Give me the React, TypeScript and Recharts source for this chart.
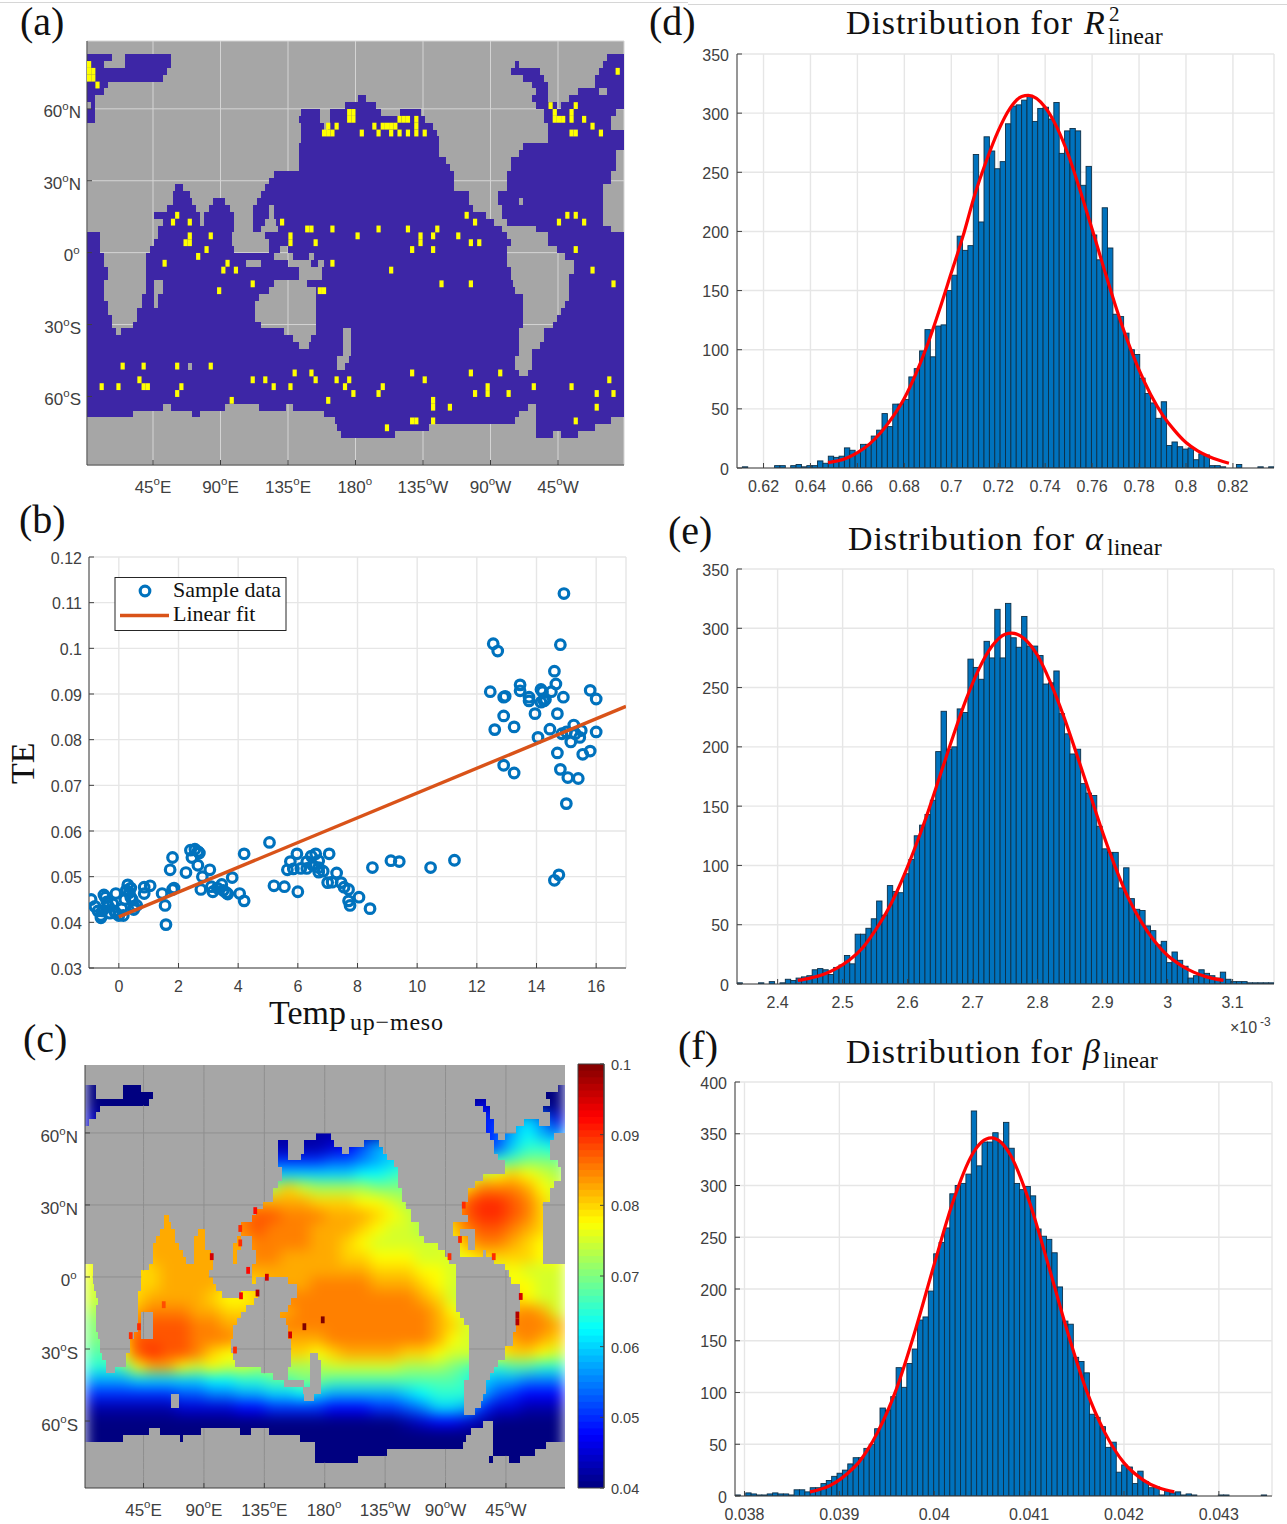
import React from 'react';
import {
  Bar,
  CartesianGrid,
  ComposedChart,
  Line,
  ReferenceArea,
  ReferenceLine,
  Scatter,
  ScatterChart,
  XAxis,
  YAxis,
} from 'recharts';

// ---- map axes
const LON_TICKS = [45, 90, 135, 180, 225, 270, 315];
const LON_LABELS = [['45', 'E'], ['90', 'E'], ['135', 'E'], ['180', ''], ['135', 'W'], ['90', 'W'], ['45', 'W']];
const LAT_TICKS = [60, 30, 0, -30, -60];
const LAT_LABELS = [['60', 'N'], ['30', 'N'], ['0', ''], ['30', 'S'], ['60', 'S']];

// ---- panel (a): ocean runs per grid row, as pairs of start and end columns
const A_OCEAN = [
  [0, 6, 9, 20, 124, 128],
  [0, 4, 9, 20, 102, 103, 123, 128],
  [0, 19, 101, 108, 122, 128],
  [0, 18, 104, 109, 121, 128],
  [0, 5, 106, 110, 121, 128],
  [0, 4, 107, 110, 117, 122, 124, 128],
  [0, 2, 64.5, 66.5, 106, 110, 115, 128],
  [1, 2, 61.5, 69, 107, 112, 113, 128],
  [0, 2, 51, 55.5, 58, 70, 74.5, 79.5, 109, 126],
  [0, 2, 50.5, 55.5, 58, 80.5, 109, 125],
  [51, 56.5, 57.5, 82.5, 110, 125],
  [51, 83.5, 110, 128],
  [51, 84, 110, 128],
  [50.5, 84, 104, 128],
  [50.5, 84, 103, 126],
  [50.5, 85.5, 101, 126],
  [50.5, 86.5, 101, 126],
  [44.5, 87.5, 100, 125],
  [43.5, 87.5, 100, 125],
  [21, 23, 42.5, 87.5, 100, 123],
  [20.5, 24.5, 41.5, 91, 98, 123],
  [20.5, 25, 30, 33, 40.5, 91, 98, 103, 104, 123],
  [19, 26, 29, 34, 39.5, 43.5, 44.5, 92, 99, 123],
  [16, 27, 28, 35, 39.5, 43.5, 44.5, 95, 99, 123],
  [18, 27, 28, 35, 39.5, 42.5, 45, 97, 100, 123],
  [17, 35, 39.5, 41.5, 45.5, 99, 107, 125],
  [0, 3, 17, 34.5, 42.5, 100, 110, 128],
  [0, 3, 16, 34.5, 43.5, 101, 110, 128],
  [0, 3, 15, 35, 43.5, 46, 48, 100, 112, 128],
  [0, 4, 14, 44.5, 49, 53, 54, 100, 114, 128],
  [0, 4, 14, 38, 41.5, 48, 53.5, 55, 56.5, 100, 116, 128],
  [0, 5, 14, 50.5, 56, 101, 116, 128],
  [0, 5, 14, 50.5, 56, 101, 115, 128],
  [0, 4, 14, 16, 18, 44.5, 52.5, 101.5, 115, 128],
  [0, 4, 14, 16, 18, 43.5, 54.5, 102, 115, 128],
  [0, 4, 13, 16, 17, 41, 54.5, 104, 115, 128],
  [0, 5, 13, 16, 17, 40, 54.5, 104, 114, 128],
  [0, 5, 12, 40, 54.5, 104, 113, 128],
  [0, 6, 12, 40, 54.5, 104, 112, 128],
  [0, 6, 11, 41.5, 54.5, 104, 111, 128],
  [0, 7, 8, 47, 54.5, 61, 63, 103, 109, 128],
  [0, 49, 53.5, 61, 63, 103, 109, 128],
  [0, 50.5, 53, 61, 63, 103, 108, 128],
  [0, 61, 63, 103, 106, 128],
  [0, 59.5, 62.5, 102, 106, 128],
  [0, 24, 25, 59.5, 61.5, 102, 106, 128],
  [0, 103, 105, 128],
  [0, 128],
  [0, 128],
  [0, 128],
  [0, 128],
  [0, 18, 20, 33, 41, 47.5, 49, 105, 107, 128],
  [0, 11, 25, 27, 56.5, 103, 107, 128],
  [59, 102, 107, 125],
  [59.5, 81.5, 107, 121],
  [60.5, 73.5, 107, 111, 113, 117],
];

// yellow cells as [column, row]
const A_YELLOW = [
  [0, 1], [0, 2], [0, 3], [1, 2], [1, 3], [2, 4], [126, 2],
  [57, 11], [58, 11], [56, 11], [57, 10], [59, 10], [62, 8], [63, 8], [62, 9], [63, 9], [65, 11],
  [68, 10], [70, 10], [71, 10], [72, 10], [73, 10], [69, 11], [72, 11], [74, 11], [76, 11],
  [78, 9], [78, 10], [78, 11], [80, 11], [74, 9], [75, 9], [76, 9],
  [110, 7], [111, 8], [111, 9], [112, 9], [113, 9], [116, 7], [115, 8], [115, 9], [118, 9], [120, 10], [122, 11], [115, 11], [116, 11],
  [21, 23], [20, 24], [24, 24], [24, 26], [23, 27], [24, 27], [29, 26], [28, 28], [26, 29], [18, 30], [33, 30], [32, 31], [35, 31], [39, 33], [31, 34],
  [46, 24], [48, 26], [48, 27], [52, 25], [53, 25], [54, 27], [58, 25], [64, 26], [69, 25], [76, 25], [79, 26], [79, 27], [82, 26], [83, 25], [77, 28], [82, 28],
  [88, 26], [90, 23], [92, 24], [91, 27], [93, 27], [58, 30], [72, 31], [84, 33], [91, 33], [55, 34], [56, 34],
  [112, 24], [114, 23], [116, 23], [118, 24], [116, 28], [120, 31], [125, 33],
  [8, 45], [13, 45], [21, 45], [29, 45], [49, 46], [53, 46], [54, 47], [39, 47], [42, 47], [44, 48], [48, 48], [59, 47], [62, 47], [61, 48], [63, 49], [70, 48], [69, 49],
  [77, 46], [80, 47], [91, 46], [98, 46], [92, 49], [95, 48], [95, 49], [100, 49], [106, 48], [115, 48], [124, 47], [121, 49], [125, 49], [121, 51],
  [3, 48], [7, 48], [12, 47], [13, 48], [14, 48], [22, 48], [21, 49], [34, 50], [57, 50], [82, 50], [82, 51], [86, 51], [77, 53], [78, 53], [82, 53], [71, 54], [116, 53],
];

// ---- panel (b)
const SAMPLE_TEMP = [
  -0.93, -0.8, -0.7, -0.6, -0.6, -0.55, -0.5, -0.45, -0.4, -0.35, -0.3, -0.2, -0.15, -0.1, 0, -0.1, 0.1, 0.15, 0.2, 0.25, 0.3, 0.35, 0.4, 0.4, 0.45, 0.5, 0.5, 0.6, 0.85, 0.85, 1.05,
  1.45, 1.55, 1.58, 1.72, 1.8, 1.85, 1.8, 2.25, 2.4, 2.45, 2.55, 2.65, 2.7, 2.65, 2.75, 2.8, 3.05, 3.1, 3.15, 3.3, 3.45, 3.5, 3.6, 3.65, 3.8, 4.05, 4.2, 4.2,
  5.05, 5.2, 5.55, 5.65, 5.75, 5.85, 5.97, 6, 6.1, 6.3, 6.3, 6.45, 6.5, 6.6, 6.7, 6.7, 6.7, 6.85, 7, 7.05, 7.15, 7.3, 7.45, 7.55, 7.7, 7.7, 7.75, 8.05, 8.42, 8.5, 9.12, 9.4, 10.45, 11.25,
  12.45, 12.55, 12.6, 12.7, 12.9, 12.9, 12.95, 12.9, 13.25, 13.25, 13.45, 13.45, 13.75, 13.75, 13.95, 14.05, 14.15, 14.2, 14.15, 14.25, 14.3, 14.45, 14.5, 14.6, 14.65, 14.7, 14.7, 14.8, 14.8, 14.85, 14.9, 14.92, 15, 15, 15.05, 15.15, 15.25, 15.3, 15.4, 15.45, 15.5, 15.55, 15.8, 15.8, 16, 16,
  14.6, 14.75,
];
const SAMPLE_TE = [
  0.045, 0.0435, 0.0425, 0.041, 0.0415, 0.0425, 0.046, 0.0455, 0.0445, 0.0435, 0.042, 0.044, 0.0425, 0.042, 0.0415, 0.0463, 0.043, 0.0415, 0.045, 0.047, 0.0482, 0.0465, 0.0475, 0.0455, 0.045, 0.0435, 0.0428, 0.0437, 0.0463, 0.0477, 0.048,
  0.0463, 0.0437, 0.0395, 0.0515, 0.0472, 0.0475, 0.0542, 0.0509, 0.0558, 0.0542, 0.056, 0.0555, 0.0552, 0.0525, 0.0472, 0.05, 0.0515, 0.0478, 0.0467, 0.0475, 0.0483, 0.047, 0.0465, 0.0462, 0.0498, 0.0463, 0.0447, 0.055,
  0.0575, 0.048, 0.0478, 0.0515, 0.0533, 0.0517, 0.055, 0.0467, 0.0518, 0.0518, 0.0533, 0.0545, 0.0525, 0.055, 0.052, 0.0535, 0.051, 0.0512, 0.0487, 0.055, 0.0488, 0.0508, 0.0487, 0.0477, 0.0472, 0.0447, 0.0437, 0.0455, 0.043, 0.052, 0.0535, 0.0533, 0.052, 0.0536,
  0.0905, 0.101, 0.0822, 0.0994, 0.0852, 0.0893, 0.0895, 0.0744, 0.0828, 0.0727, 0.092, 0.0907, 0.0893, 0.0885, 0.0857, 0.0805, 0.091, 0.0905, 0.0882, 0.0885, 0.0888, 0.0823, 0.0905, 0.095, 0.0922, 0.0857, 0.0771, 0.0735, 0.1008, 0.0813, 0.0893, 0.112, 0.0817, 0.066, 0.0717, 0.0795, 0.0832, 0.0813, 0.0715, 0.0805, 0.082, 0.0768, 0.0775, 0.0908, 0.0817, 0.0889,
  0.0492, 0.0504,
];
const FIT_TEMP = [0, 17];
const FIT_TE = [0.0412, 0.0873];
const B_X_TICKS = [0, 2, 4, 6, 8, 10, 12, 14, 16];
const B_Y_TICKS = [0.03, 0.04, 0.05, 0.06, 0.07, 0.08, 0.09, 0.1, 0.11, 0.12];

// ---- panel (c): ocean runs per grid row
const C_OCEAN = [
  [0, 3, 10, 15, 126, 128],
  [0, 3, 10, 18, 123, 128],
  [0, 17, 104, 107, 124, 128],
  [0, 4, 106, 108, 122, 128],
  [0, 3, 107, 108, 124, 128],
  [0, 1, 107, 109, 117, 121, 124, 128],
  [107, 109, 115, 128],
  [61.5, 65.5, 108, 110, 112, 125],
  [51.5, 54, 58.5, 66.5, 74.5, 78.5, 109, 124],
  [51.5, 54, 58.5, 68.5, 70.5, 79.5, 109, 124],
  [51.5, 54, 57.5, 80.5, 110, 124],
  [51.5, 82.5, 112, 126],
  [52.5, 83.5, 112, 127],
  [52.5, 83.5, 106, 127],
  [51.5, 83.5, 104, 125],
  [50, 84.5, 102, 124],
  [50, 84.5, 102, 124],
  [47.5, 85.5, 100.5, 122],
  [45.5, 87, 100.5, 122],
  [21, 22.5, 44.5, 87, 102, 122],
  [21, 23, 41.5, 89, 98, 122],
  [20, 24, 30, 32, 41.5, 89, 98, 100, 104, 122],
  [19, 24, 29, 32, 40.5, 41.5, 44.5, 90.5, 100, 102, 104, 122],
  [18, 25, 29, 32, 39.5, 41.5, 44.5, 94, 100, 102, 104, 122],
  [18, 26, 29, 33.5, 39.5, 40.5, 45.5, 96, 100, 106, 107, 122],
  [18, 27, 29, 34, 39.5, 40.5, 45.5, 97, 109, 122],
  [0, 2, 17, 34, 44.5, 99, 112, 128],
  [0, 2, 15, 33, 44.5, 99, 113, 128],
  [0, 2, 15, 34, 44.5, 45.5, 54, 99, 113.5, 128],
  [0, 2.5, 15, 35, 56.5, 99, 116, 128],
  [0, 3, 14, 36.5, 41.5, 46, 56.5, 99, 116, 128],
  [0, 3.5, 14, 45, 55, 99, 116, 128],
  [0, 3, 14, 43, 54, 99, 116, 128],
  [0, 3, 14, 15, 18, 41.5, 52, 100, 115, 128],
  [0, 3, 14, 15, 18, 40.5, 53.5, 101, 115, 128],
  [0, 3, 14, 15, 18, 39.5, 54, 102.5, 115, 128],
  [0, 3.5, 13, 15, 18, 39.5, 54, 102.5, 114, 128],
  [0, 4, 12, 39, 55, 102.5, 114, 128],
  [0, 4, 12, 39, 55, 102.5, 112, 128],
  [0, 4.5, 11, 39.5, 55, 60, 62, 102.5, 112, 128],
  [0, 5.5, 11, 40, 55, 60, 63, 102.5, 110, 128],
  [0, 5.5, 8, 47, 54, 60, 63, 102.5, 109, 128],
  [0, 50, 54, 60, 63, 102.5, 108, 128],
  [0, 53, 58.5, 60, 63, 101, 107, 128],
  [0, 58, 63, 101, 107, 128],
  [0, 23, 25, 58.5, 61, 101, 106, 128],
  [0, 23, 25, 101, 105.5, 128],
  [0, 101, 104, 128],
  [0, 128],
  [0, 106, 108.7, 128],
  [0, 17, 20, 31, 41.4, 44.3, 49, 103, 108.7, 128],
  [0, 10, 25.3, 26, 57.4, 101.5, 108.7, 128],
  [61.4, 100.8, 108.7, 123],
  [61.4, 80.6, 108.7, 120],
  [61.4, 72.7, 107.7, 108.7, 113, 116],
];

// coarse TE field: one letter per block, a = 0.04 up to y = 0.1 in steps of 0.0025
const C_FIELD = [
  'aaaaaaaaaaaaaaaaaaaaaaaaaaaaaaaa',
  'aaaaaaaaaaaaaaaaaaaaaaaaaadaaaaa',
  'caaaaaaaaaaaaaaaaaaaaaaaaaeehigc',
  'bbbbbbbbbbbbbbbbbbbbbbbbbbdfhjhg',
  'ccccccccccccbbbbcdfhiiijjjefikkj',
  'eeeeeeeeeeeeeeeeffghijjjkkkklmmm',
  'iiiiiiiiiiiiiiiiiijjkllmmnopqpon',
  'nnnnnnnnnnnnnqonnnnmmmmnoqsssrpo',
  'rrrrrrrrrrrrrrrqqqpponnoqtuutsqo',
  'rrrrrrrrrrsttsssrrrqponortuutsqp',
  'rrrrrrrrrrstsssrrrqpoonnqsttsrqp',
  'qqqqrrrrrrrssssrrqpoooooprssrqpp',
  'oppprrrrrrrssrrrrqqpppooopqqqqpp',
  'pppqqrrrrrrrrrrrrrrqqqppoooopooo',
  'oopqqrrrrqqqrrrssssrrrqpooooppoo',
  'onpqrrrrqppqrsssssssssrqonnoqpoo',
  'nnqrsssrrqqqrrsssssssssrpooprsro',
  'mnrstttssrrrrssssssssssrqoprsssr',
  'mmqttttsssrrrrrrsssssssrpooqrsrq',
  'llptuttsqppooqqpqrrrrqqpoooPqqpo'.replace('P', 'p'),
  'kklprrpopoonnnnnooooonnnmlkkllkk',
  'hhhiiiiijjkkllmmlllllllllkihhggg',
  'eeeeeeffgghhiijihhhhhijkkkhfeddd',
  'bbbbbbccccddeeeedddeefgiiheccbbb',
  'aaaaaaaaaaaaaaaaaaaaabcddcbaaaaa',
  'aaaaaaaaaaaaaaaaaaaaaaaaaaaaaaaa',
  'aaaaaaaaaaaaaaaaaaaaaaaaaaaaaaaa',
  'aaaaaaaaaaaaaaaaaaaaaaaaaaaaaaaa',
];

// sharp hot cells along the coasts as [column, row, TE]
const C_SPECKS = [
  [45.4, 18.3, 0.092], [41.4, 20.9, 0.09], [41.4, 23, 0.09], [33.8, 25, 0.095], [43.5, 27, 0.092], [48.5, 28, 0.095],
  [46, 30.3, 0.097], [41.6, 30.7, 0.093], [21, 32, 0.088], [14.4, 35.2, 0.09], [12.2, 36.5, 0.09], [58.5, 35.2, 0.1],
  [63.4, 34.2, 0.1], [54.7, 36.4, 0.095], [40, 38.6, 0.09], [101, 17.5, 0.09], [100, 22.5, 0.09], [97.2, 25, 0.09],
  [109, 25, 0.09], [116.2, 30.8, 0.095], [115.3, 33.5, 0.097], [115.3, 34.5, 0.097],
];
const COLORBAR_TICKS = [0.04, 0.05, 0.06, 0.07, 0.08, 0.09, 0.1];

// ---- histograms, 100 bins each
const D_COUNTS = [
  0, 1, 0, 0, 0, 0, 0, 2, 2, 0, 2, 3, 1, 2, 2, 6, 4, 10, 9, 10, 17, 15, 13, 20, 20, 27, 32, 46, 35, 54, 54, 58, 77, 84, 99, 117, 94, 120, 121, 150,
  163, 196, 184, 188, 265, 208, 280, 268, 253, 259, 291, 306, 307, 311, 314, 293, 304, 305, 295, 309, 266, 285, 287, 285, 239, 255, 197, 176, 220, 186,
  130, 128, 114, 100, 96, 76, 63, 55, 42, 56, 19, 22, 18, 16, 17, 7, 12, 11, 2, 2, 1, 0, 0, 3, 0, 0, 0, 1, 0, 1,
];
const D_FIT_X = [0.6475, 0.655, 0.66, 0.665, 0.67, 0.675, 0.68, 0.685, 0.69, 0.695, 0.7, 0.705, 0.71, 0.715, 0.72, 0.725, 0.73, 0.7328, 0.74, 0.745, 0.75, 0.755, 0.76, 0.765, 0.77, 0.775, 0.78, 0.785, 0.79, 0.795, 0.8, 0.805, 0.81, 0.8183];
const D_FIT_Y = [4.5, 8, 13, 20, 30, 43, 59, 80, 105, 134, 165, 196, 231, 260, 285, 304, 314, 315, 305, 288, 264, 234, 202, 169, 137, 108, 83, 62, 45, 32, 21.5, 14.5, 9.5, 4];
const D_X_TICKS = [0.62, 0.64, 0.66, 0.68, 0.7, 0.72, 0.74, 0.76, 0.78, 0.8, 0.82];

const E_COUNTS = [
  1, 0, 0, 0, 1, 0, 2, 0, 1, 4, 3, 5, 6, 7, 12, 13, 12, 8, 14, 16, 24, 17, 42, 42, 47, 55, 70, 58, 83, 78, 77, 93, 105, 125, 134, 143, 155, 196, 230, 198,
  200, 232, 229, 274, 267, 257, 289, 275, 316, 275, 321, 292, 284, 310, 285, 285, 277, 253, 254, 264, 228, 211, 194, 198, 169, 161, 159, 133, 114, 111,
  111, 81, 98, 72, 63, 62, 49, 45, 33, 36, 18, 27, 20, 15, 5, 7, 12, 9, 7, 5, 10, 4, 2, 2, 2, 1, 1, 1, 1, 1,
];
const E_FIT_X = [2.431, 2.45, 2.47, 2.49, 2.51, 2.53, 2.55, 2.57, 2.59, 2.61, 2.63, 2.65, 2.67, 2.69, 2.71, 2.73, 2.75, 2.76, 2.78, 2.8, 2.82, 2.84, 2.86, 2.88, 2.9, 2.92, 2.94, 2.96, 2.98, 3, 3.02, 3.04, 3.06, 3.086];
const E_FIT_Y = [3, 5, 8, 13, 20, 30, 45, 63, 86, 113, 143, 176, 209, 240, 266, 285, 295, 296, 291, 277, 254, 226, 194, 161, 128, 98, 72, 52, 36, 24, 16, 10, 6, 3];
const E_X_TICKS = [2.4, 2.5, 2.6, 2.7, 2.8, 2.9, 3, 3.1];

const F_COUNTS = [
  1, 0, 3, 2, 1, 1, 2, 3, 2, 2, 1, 6, 6, 4, 8, 8, 12, 15, 19, 22, 25, 31, 37, 37, 46, 50, 65, 85, 83, 96, 124, 105, 128, 142, 170, 173, 198, 234, 245, 259,
  292, 300, 302, 311, 372, 319, 342, 342, 351, 342, 361, 336, 302, 296, 299, 290, 258, 251, 248, 235, 202, 169, 166, 134, 130, 119, 79, 76, 67, 47,
  52, 23, 30, 28, 12, 24, 14, 8, 9, 1, 5, 3, 4, 1, 2, 1, 0, 0, 0, 0, 1, 1, 0, 0, 0, 0, 0, 0, 1, 0,
];
const F_FIT_X = [0.03869, 0.0389, 0.039, 0.0391, 0.0392, 0.0393, 0.0394, 0.0396, 0.0398, 0.04, 0.0402, 0.0404, 0.0405, 0.0406, 0.0407, 0.0408, 0.041, 0.0412, 0.0414, 0.0416, 0.0418, 0.042, 0.0422, 0.04253];
const F_FIT_Y = [4, 10, 15.6, 23, 32, 45, 61, 103, 160, 224, 285, 330, 342, 346, 342, 330, 285, 224, 160, 103, 61, 32, 15.6, 4];
const F_X_TICKS = [0.038, 0.039, 0.04, 0.041, 0.042, 0.043];

const Y_TICKS_350 = [0, 50, 100, 150, 200, 250, 300, 350];
const Y_TICKS_400 = [0, 50, 100, 150, 200, 250, 300, 350, 400];

const INK = '#404040';
const GRID = '#e6e6e6';
const TICK_FONT = '"Liberation Sans", sans-serif';
const SERIF = '"Liberation Serif", serif';

const jet = (v: number) => {
  const t = Math.min(1, Math.max(0, (v - 0.04) / 0.06));
  const band = (c: number) => Math.round(255 * Math.min(1, Math.max(0, 1.5 - Math.abs(4 * t - c))));
  return `rgb(${band(3)},${band(2)},${band(1)})`;
};

const BottomTick = ({ x, y, payload, label, gap, size }: any) => (
  <g>
    <line x1={x} x2={x} y1={y} y2={y - 5} stroke={INK} />
    <text x={x} y={y + gap} textAnchor="middle" dominantBaseline="central" fontFamily={TICK_FONT} fontSize={size || 16} fill={INK}>
      {label(payload.value)}
    </text>
  </g>
);

const LeftTick = ({ x, y, payload, label, gap, size, shift }: any) => (
  <g>
    <line x1={x} x2={x + 5} y1={y} y2={y} stroke={INK} />
    <text x={x - gap} y={y + (shift || 1)} textAnchor="end" dominantBaseline="central" fontFamily={TICK_FONT} fontSize={size || 16} fill={INK}>
      {label(payload.value)}
    </text>
  </g>
);

const TopTick = ({ x, y }: any) => <line x1={x} x2={x} y1={y} y2={y + 5} stroke={INK} />;
const RightTick = ({ x, y }: any) => <line x1={x} x2={x - 5} y1={y} y2={y} stroke={INK} />;

const Degree = ({ parts }: { parts: string[] }) => (
  <>
    {parts[0]}
    <tspan dy={-6} fontSize={11.5}>o</tspan>
    <tspan dy={6}>{parts[1] || '\u200a'}</tspan>
  </>
);
const lonLabel = (v: number) => <Degree parts={LON_LABELS[LON_TICKS.indexOf(v)]} />;
const latLabel = (v: number) => <Degree parts={LAT_LABELS[LAT_TICKS.indexOf(v)]} />;
const plain = (v: number) => String(v);

// the four sides of a MATLAB box, with inward ticks
const frame = (opts: any) => [
  <XAxis
    key="bottom"
    type="number"
    dataKey="x"
    domain={opts.xDomain}
    ticks={opts.xTicks}
    interval={0}
    allowDataOverflow
    height={40}
    tickSize={0}
    tickMargin={0}
    tickLine={false}
    axisLine={{ stroke: INK }}
    tick={(p: any) => <BottomTick {...p} label={opts.xLabel || plain} gap={opts.xGap} size={opts.size} />}
  />,
  <XAxis
    key="top"
    xAxisId="top"
    orientation="top"
    type="number"
    domain={opts.xDomain}
    ticks={opts.xTicks}
    interval={0}
    allowDataOverflow
    height={0}
    tickSize={0}
    tickMargin={0}
    tickLine={false}
    axisLine={{ stroke: INK }}
    tick={(p: any) => <TopTick {...p} />}
  />,
  <YAxis
    key="left"
    type="number"
    dataKey={opts.yKey}
    domain={opts.yDomain}
    ticks={opts.yTicks}
    interval={0}
    allowDataOverflow
    width={60}
    tickSize={0}
    tickMargin={0}
    tickLine={false}
    axisLine={{ stroke: INK }}
    tick={(p: any) => <LeftTick {...p} label={opts.yLabel || plain} gap={opts.yGap} size={opts.size} shift={opts.yShift} />}
  />,
  <YAxis
    key="right"
    yAxisId="right"
    orientation="right"
    type="number"
    domain={opts.yDomain}
    ticks={opts.yTicks}
    interval={0}
    allowDataOverflow
    width={0}
    tickSize={0}
    tickMargin={0}
    tickLine={false}
    axisLine={{ stroke: INK }}
    tick={(p: any) => <RightTick {...p} />}
  />,
];

const CHART_MARGIN = { top: 10, right: 10, bottom: 0, left: 0 };

const Place = ({ left, top, children, style }: any) => (
  <div style={{ position: 'absolute', left, top, ...style }}>{children}</div>
);

// ---- histogram panels
function Histogram({ plot, xDomain, xTicks, yTop, yTicks, counts, fitX, fitY, xGap, yGap }: any) {
  const binWidth = (xDomain[1] - xDomain[0]) / counts.length;
  const barPx = plot.width / counts.length;
  const data = counts.map((count: number, i: number) => ({ x: xDomain[0] + (i + 0.5) * binWidth, count }));
  const fit = fitX.map((x: number, i: number) => ({ x, fit: fitY[i] }));
  return (
    <Place left={plot.left - 60} top={plot.top - 10}>
      <ComposedChart width={plot.width + 70} height={plot.height + 50} data={data} margin={CHART_MARGIN} barCategoryGap={0}>
        <CartesianGrid stroke={GRID} strokeWidth={1.4} />
        {frame({ xDomain, xTicks, yDomain: [0, yTop], yTicks, xGap, yGap })}
        <Bar
          dataKey="count"
          isAnimationActive={false}
          shape={(p: any) =>
            p.height > 0 ? (
              <rect
                x={p.x + p.width / 2 - barPx / 2}
                y={p.y}
                width={barPx}
                height={p.height}
                fill="#0072BD"
                stroke="#0d2f47"
                strokeWidth={0.9}
              />
            ) : (
              <g />
            )
          }
        />
        <Line
          data={fit}
          dataKey="fit"
          type="monotone"
          stroke="#ff0000"
          strokeWidth={3.2}
          dot={false}
          isAnimationActive={false}
        />
      </ComposedChart>
    </Place>
  );
}

// ---- map helpers
const A_LON: [number, number] = [1, 359];
const A_LAT: [number, number] = [-88.6, 88.3];
const aLon = (col: number) => A_LON[0] + (col * (A_LON[1] - A_LON[0])) / 128;
const aLat = (row: number) => 82.8 - 2.86 * row;

const C_LON: [number, number] = [1.4, 359];
const C_LAT: [number, number] = [-87.9, 88.3];
const cLon = (col: number) => C_LON[0] + (col * (C_LON[1] - C_LON[0])) / 128;
const cLat = (row: number) => 80 - 2.861 * row;
const clampLat = (lat: number) => Math.min(C_LAT[1], Math.max(C_LAT[0], lat));

const A_PLOT = { left: 86.5, top: 41, width: 537, height: 424 };
const B_PLOT = { left: 89, top: 557, width: 537, height: 411 };
const C_PLOT = { left: 84.5, top: 1065, width: 480, height: 423 };
const BAR_PLOT = { left: 578, top: 1064, width: 26, height: 424 };
const D_PLOT = { left: 737, top: 53.5, width: 537, height: 414 };
const E_PLOT = { left: 737, top: 569, width: 537, height: 415 };
const F_PLOT = { left: 735, top: 1082, width: 537, height: 414 };

const yellowRows = A_YELLOW.map(([col, row]) => ({ x: aLon(col + 0.5), lat: aLat(row + 0.5) }));

function MapA() {
  const cellW = A_PLOT.width / 128;
  const cellH = (2.86 * A_PLOT.height) / (A_LAT[1] - A_LAT[0]);
  return (
    <Place left={A_PLOT.left - 60} top={A_PLOT.top - 10}>
      <ScatterChart width={A_PLOT.width + 70} height={A_PLOT.height + 50} margin={CHART_MARGIN}>
        <CartesianGrid fill="#a6a6a6" stroke="#d4d4d4" />
        {frame({ xDomain: A_LON, xTicks: LON_TICKS, xLabel: lonLabel, yDomain: A_LAT, yTicks: LAT_TICKS, yLabel: latLabel, yKey: 'lat', xGap: 22, yGap: 6, size: 17, yShift: 3 })}
        {A_OCEAN.flatMap((runs, row) =>
          runs.flatMap((c, i) =>
            i % 2 === 0
              ? [
                  <ReferenceArea
                    key={`${row}-${i}`}
                    x1={aLon(c)}
                    x2={aLon(runs[i + 1])}
                    y1={aLat(row + 1)}
                    y2={aLat(row)}
                    fill="#3d26a6"
                    fillOpacity={1}
                    stroke="none"
                    shapeRendering="crispEdges"
                    ifOverflow="visible"
                  />,
                ]
              : [],
          ),
        )}
        <Scatter
          data={yellowRows}
          isAnimationActive={false}
          shape={(p: any) => <rect x={p.cx - cellW / 2} y={p.cy - cellH / 2} width={cellW} height={cellH} fill="#ffff00" />}
        />
      </ScatterChart>
    </Place>
  );
}

const sampleRows = SAMPLE_TEMP.map((x, i) => ({ x, y: SAMPLE_TE[i] }));
const fitRows = FIT_TEMP.map((x, i) => ({ x, y: FIT_TE[i] }));

function ScatterB() {
  return (
    <Place left={B_PLOT.left - 60} top={B_PLOT.top - 10}>
      <ScatterChart width={B_PLOT.width + 70} height={B_PLOT.height + 50} margin={CHART_MARGIN}>
        <CartesianGrid stroke={GRID} strokeWidth={1.4} />
        {frame({ xDomain: [-1, 17], xTicks: B_X_TICKS, yDomain: [0.03, 0.12], yTicks: B_Y_TICKS, yKey: 'y', xGap: 18, yGap: 7 })}
        <Scatter
          data={sampleRows}
          isAnimationActive={false}
          shape={(p: any) => <circle cx={p.cx} cy={p.cy} r={4.8} fill="none" stroke="#0072BD" strokeWidth={3.2} />}
        />
        <Scatter
          data={fitRows}
          isAnimationActive={false}
          line={{ stroke: '#D95319', strokeWidth: 3.4 }}
          shape={() => <g />}
        />
      </ScatterChart>
    </Place>
  );
}

const fieldRows = C_FIELD.flatMap((line, j) =>
  line.split('').map((ch, k) => ({
    x: cLon(4 * k + 2),
    lat: cLat(2 * j + 1),
    te: 0.04 + 0.0025 * (ch.charCodeAt(0) - 97),
    k,
    j,
  })),
);

const specks = C_SPECKS.map(([col, row, te]) => ({ x: cLon(col), lat: cLat(row), te }));

// everything that is not ocean, row by row, drawn over the blurred field
const landRuns: { row: number; from: number; to: number }[] = [];
for (let row = -3; row < 62; row++) {
  const runs = C_OCEAN[row] || [];
  let from = 0;
  for (let i = 0; i < runs.length; i += 2) {
    if (runs[i] > from) landRuns.push({ row, from, to: runs[i] });
    from = runs[i + 1];
  }
  if (from < 128) landRuns.push({ row, from, to: 128 });
}

function MapC() {
  const blockW = (4 * C_PLOT.width) / 128;
  const blockH = (2 * 2.861 * C_PLOT.height) / (C_LAT[1] - C_LAT[0]);
  const speckW = C_PLOT.width / 128;
  const speckH = (2.861 * C_PLOT.height) / (C_LAT[1] - C_LAT[0]);
  const pad = 30;
  const lastRow = C_FIELD.length - 1;
  return (
    <>
      <Place left={C_PLOT.left} top={C_PLOT.top} style={{ width: C_PLOT.width, height: C_PLOT.height, overflow: 'hidden' }}>
        <div style={{ position: 'absolute', left: -pad, top: -pad, filter: 'blur(7px)' }}>
          <ScatterChart
            width={C_PLOT.width + 2 * pad}
            height={C_PLOT.height + 2 * pad}
            margin={{ top: pad, right: pad, bottom: pad, left: pad }}
          >
            <XAxis type="number" dataKey="x" domain={C_LON} allowDataOverflow hide />
            <YAxis type="number" dataKey="lat" domain={C_LAT} allowDataOverflow hide />
            <Scatter
              data={fieldRows}
              isAnimationActive={false}
              shape={(p: any) => {
                const { k, j } = p.payload;
                const x0 = p.cx - blockW / 2 - (k === 0 ? pad : 0);
                const w = blockW + (k === 0 || k === 31 ? pad : 0);
                const y0 = p.cy - blockH / 2 - (j === 0 ? pad : 0);
                const h = blockH + (j === 0 || j === lastRow ? pad : 0);
                return <rect x={x0} y={y0} width={w} height={h} fill={jet(p.payload.te)} shapeRendering="crispEdges" />;
              }}
            />
          </ScatterChart>
        </div>
      </Place>
      <Place left={C_PLOT.left - 60} top={C_PLOT.top - 10}>
        <ScatterChart width={C_PLOT.width + 70} height={C_PLOT.height + 50} margin={CHART_MARGIN}>
          {frame({ xDomain: C_LON, xTicks: LON_TICKS, xLabel: lonLabel, yDomain: C_LAT, yTicks: LAT_TICKS, yLabel: latLabel, yKey: 'lat', xGap: 22, yGap: 7, size: 17, yShift: 4 })}
          {landRuns.map((r, i) => (
            <ReferenceArea
              key={i}
              x1={cLon(r.from)}
              x2={cLon(r.to)}
              y1={clampLat(cLat(r.row + 1))}
              y2={clampLat(cLat(r.row))}
              fill="#a6a6a6"
              fillOpacity={1}
              stroke="none"
              shapeRendering="crispEdges"
              ifOverflow="visible"
            />
          ))}
          {landRuns.flatMap((r, i) => {
            const top = clampLat(cLat(r.row));
            const bottom = clampLat(cLat(r.row + 1));
            const lons = LON_TICKS.filter((t) => t >= cLon(r.from) && t <= cLon(r.to));
            const lats = LAT_TICKS.filter((t) => t <= top && t > bottom);
            return [
              ...lons.map((t) => (
                <ReferenceLine key={`v${i}-${t}`} segment={[{ x: t, y: bottom }, { x: t, y: top }]} stroke="#8f8f8f" ifOverflow="visible" />
              )),
              ...lats.map((t) => (
                <ReferenceLine key={`h${i}-${t}`} segment={[{ x: cLon(r.from), y: t }, { x: cLon(r.to), y: t }]} stroke="#8f8f8f" ifOverflow="visible" />
              )),
            ];
          })}
          <Scatter
            data={specks}
            isAnimationActive={false}
            shape={(p: any) => <rect x={p.cx - speckW / 2} y={p.cy - speckH / 2} width={speckW} height={speckH} fill={jet(p.payload.te)} />}
          />
        </ScatterChart>
      </Place>
    </>
  );
}

const COLOR_LEVELS = Array.from({ length: 64 }, (_, i) => 0.04 + (i * 0.06) / 64);

function ColorBar() {
  return (
    <Place left={BAR_PLOT.left - 10} top={BAR_PLOT.top - 10}>
      <ScatterChart width={BAR_PLOT.width + 60} height={BAR_PLOT.height + 30} margin={{ top: 10, right: 0, bottom: 20, left: 10 }}>
        <XAxis type="number" dataKey="x" domain={[0, 1]} allowDataOverflow hide />
        <YAxis
          type="number"
          dataKey="te"
          orientation="right"
          domain={[0.04, 0.1]}
          ticks={COLORBAR_TICKS}
          interval={0}
          allowDataOverflow
          width={50}
          tickSize={0}
          tickMargin={0}
          tickLine={false}
          axisLine={{ stroke: INK }}
          tick={(p: any) => (
            <g>
              <line x1={p.x} x2={p.x - 4} y1={p.y} y2={p.y} stroke={INK} />
              <text x={p.x + 7} y={p.y + 1} dominantBaseline="central" fontFamily={TICK_FONT} fontSize={14.5} fill={INK}>
                {p.payload.value}
              </text>
            </g>
          )}
        />
        {COLOR_LEVELS.map((v, i) => (
          <ReferenceArea
            key={i}
            x1={0}
            x2={1}
            y1={v}
            y2={Math.min(0.1, v + 0.06 / 64 + 0.0002)}
            fill={jet(v + 0.03 / 64)}
            fillOpacity={1}
            stroke="none"
            ifOverflow="visible"
          />
        ))}
        <ReferenceArea x1={0} x2={1} y1={0.04} y2={0.1} fill="none" stroke={INK} ifOverflow="visible" />
      </ScatterChart>
    </Place>
  );
}

const PANEL_LETTERS: [string, number, number][] = [
  ['(a)', 20, 35],
  ['(b)', 19, 533],
  ['(c)', 23, 1052],
  ['(d)', 649, 35],
  ['(e)', 668, 544],
  ['(f)', 678, 1059],
];

function Overlay() {
  const t = { fontFamily: SERIF, fill: '#111' };
  return (
    <svg width={1287} height={1524} style={{ position: 'absolute', left: 0, top: 0, pointerEvents: 'none' }}>
      <line x1={0} x2={688} y1={2.5} y2={2.5} stroke="#d6d6d6" />
      <line x1={688} x2={1287} y1={4.5} y2={4.5} stroke="#d6d6d6" />
      {PANEL_LETTERS.map(([s, x, y]) => (
        <text key={s} x={x} y={y} {...t} fontSize={40}>{s}</text>
      ))}

      <text x={846} y={34} {...t} fontSize={34} letterSpacing={0.9}>Distribution for</text>
      <text x={1084} y={34} {...t} fontSize={34} fontStyle="italic">R</text>
      <text x={1109} y={21} {...t} fontSize={21}>2</text>
      <text x={1108} y={44} {...t} fontSize={24}>linear</text>

      <text x={848} y={550} {...t} fontSize={34} letterSpacing={0.9}>Distribution for</text>
      <text x={1085} y={550} {...t} fontSize={34} fontStyle="italic">α</text>
      <text x={1107} y={555} {...t} fontSize={24}>linear</text>

      <text x={846} y={1063} {...t} fontSize={34} letterSpacing={0.9}>Distribution for</text>
      <text x={1083} y={1063} {...t} fontSize={34} fontStyle="italic">β</text>
      <text x={1103} y={1068} {...t} fontSize={24}>linear</text>

      <text x={1230} y={1033} fontFamily={TICK_FONT} fontSize={16} fill={INK}>×10</text>
      <text x={1260} y={1026} fontFamily={TICK_FONT} fontSize={12} fill={INK}>-3</text>

      <text transform="translate(34 784) rotate(-90)" {...t} fontSize={34}>TE</text>
      <text x={269} y={1024} {...t} fontSize={34}>Temp</text>
      <text x={350} y={1030} {...t} fontSize={24} letterSpacing={0.8}>up−meso</text>

      <rect x={115} y={577.5} width={171} height={53} fill="#fff" stroke="#262626" />
      <circle cx={145} cy={591} r={4.8} fill="none" stroke="#0072BD" strokeWidth={3.2} />
      <line x1={120} x2={169} y1={615.5} y2={615.5} stroke="#D95319" strokeWidth={3.4} />
      <text x={173} y={597} {...t} fontSize={22}>Sample data</text>
      <text x={173} y={621} {...t} fontSize={22}>Linear fit</text>
    </svg>
  );
}

export default function App() {
  return (
    <div style={{ position: 'absolute', left: 0, top: 0, width: 1287, height: 1524, background: '#fff', overflow: 'hidden' }}>
      <MapA />
      <ScatterB />
      <MapC />
      <ColorBar />
      <Histogram plot={D_PLOT} xDomain={[0.6087, 0.8375]} xTicks={D_X_TICKS} yTop={350} yTicks={Y_TICKS_350} counts={D_COUNTS} fitX={D_FIT_X} fitY={D_FIT_Y} xGap={18.5} yGap={8} />
      <Histogram plot={E_PLOT} xDomain={[2.3375, 3.1637]} xTicks={E_X_TICKS} yTop={350} yTicks={Y_TICKS_350} counts={E_COUNTS} fitX={E_FIT_X} fitY={E_FIT_Y} xGap={18} yGap={8} />
      <Histogram plot={F_PLOT} xDomain={[0.0379, 0.04356]} xTicks={F_X_TICKS} yTop={400} yTicks={Y_TICKS_400} counts={F_COUNTS} fitX={F_FIT_X} fitY={F_FIT_Y} xGap={18} yGap={8} />
      <Overlay />
    </div>
  );
}
